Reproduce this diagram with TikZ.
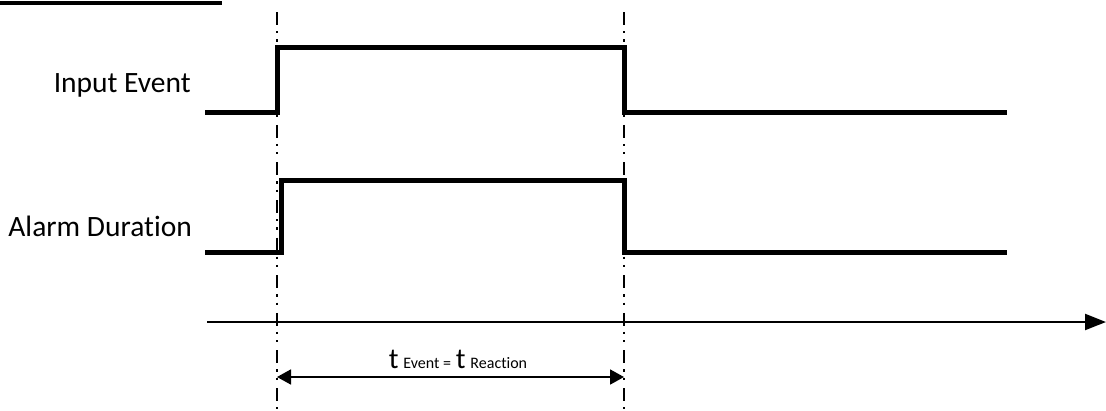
\documentclass[tikz,border=0pt]{standalone}
\usepackage{fontspec}
\setmainfont{Carlito}[Ligatures=NoCommon]
\usetikzlibrary{arrows.meta}
\newcommand{\subsize}{\fontsize{16}{19}\selectfont}
\tikzset{
    signal/.style={line width=5pt, line join=miter, line cap=butt},
    marker/.style={line width=2.3pt, dash pattern=on 13pt off 6pt on 2.3pt off 6pt on 2.3pt off 8pt},
    siglabel/.style={anchor=base east, inner sep=0pt, font=\fontsize{29.5}{35}\selectfont},
}
\begin{document}
\begin{tikzpicture}[x=1pt, y=-1pt]
    \useasboundingbox (0,0) rectangle (1106,410);

    % Heading underline (cut off at the top)
    \draw[line width=4pt] (0,3) -- (222,3);

    % Marker lines at the edges
    \coordinate (start top) at (277,12);
    \coordinate (start bot) at (277,410);
    \coordinate (end top) at (624,12);
    \coordinate (end bot) at (624,410);
    \draw[marker] (start top) -- (start bot);
    \draw[marker] (end top) -- (end bot);

    % Input Event
    \node[siglabel] (input) at (191,92) {Input Event};
    \draw[signal] (205,112) -- (277,112) -- (277,47) -- (624,47) -- (624,112) -- (1007,112);

    % Alarm Duration
    \node[siglabel] (alarm) at (192,236) {Alarm Duration};
    \draw[signal] (205,252) -- (281,252) -- (281,180) -- (624,180) -- (624,252) -- (1007,252);

    % Time axis
    \coordinate (axis start) at (207,322);
    \coordinate (axis end) at (1106,322);
    \draw[line width=2.3pt, -{Triangle[length=21pt, width=16pt]}] (axis start) -- (axis end);

    % Duration
    \coordinate (dur left) at (277,377);
    \coordinate (dur right) at (624,377);
    \draw[line width=1.8pt, {Triangle[length=14pt, width=15pt]}-{Triangle[length=14pt, width=15pt]}] (dur left) -- (dur right);
    \node[anchor=base, inner sep=0pt, font=\fontsize{29}{34}\selectfont] (dur label) at (458,368)
        {t\,{\subsize Event =}\,t\,{\subsize Reaction}};
\end{tikzpicture}
\end{document}
